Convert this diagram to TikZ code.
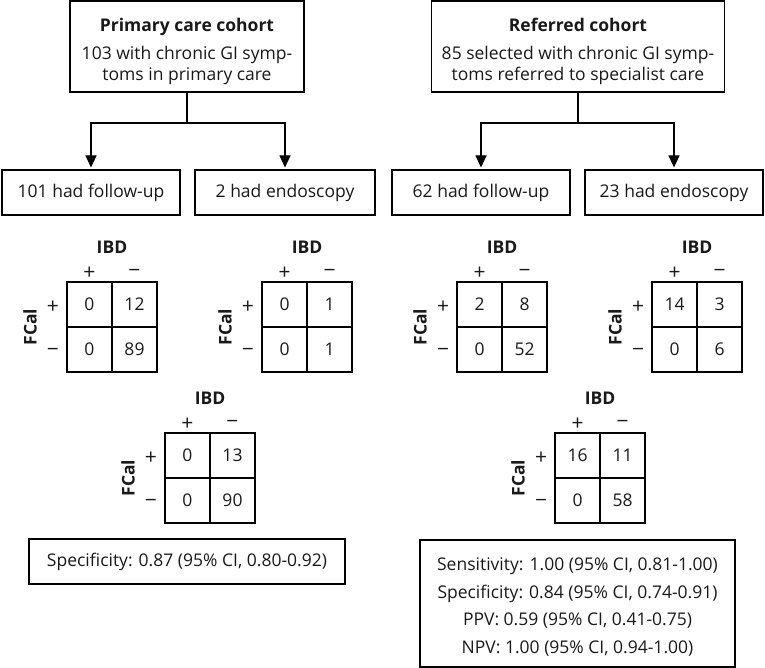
\documentclass[tikz,border=0pt]{standalone}
\usepackage{fontspec}
\setmainfont{Open Sans}
\usetikzlibrary{arrows.meta}
\tikzset{
  base/.style={font=\fontsize{17.5}{21}\selectfont, text=black!90},
  boxn/.style={base, draw, line width=1.1pt, inner sep=0pt, align=center},
  cell/.style={base, draw, line width=1.1pt, minimum size=45pt, inner sep=0pt},
  lab/.style={base, inner sep=0pt, align=center},
  sgn/.style={inner sep=0pt, font=\fontsize{21}{24}\selectfont, text=black!90},
  blab/.style={base, inner sep=0pt, font=\fontsize{17.5}{21}\selectfont\bfseries},
  conn/.style={line width=1.1pt},
  arr/.style={line width=1.1pt, -{Triangle[length=12pt,width=11pt]}},
}
\newcommand\ctwobytwo[7]{%
  \node[cell] (#1a) at (#2+22.5,#3+22.5) {#4};
  \node[cell] (#1b) at (#2+67.5,#3+22.5) {#5};
  \node[cell] (#1c) at (#2+22.5,#3+67.5) {#6};
  \node[cell] (#1d) at (#2+67.5,#3+67.5) {#7};
  \node[sgn] (#1cp) at (#2+22.5,#3-8.5) {+};
  \node[sgn] (#1cm) at (#2+67.5,#3-8.5) {−};
  \node[sgn] (#1rp) at (#2-14,#3+25) {+};
  \node[sgn] (#1rm) at (#2-14,#3+70) {−};
  \node[blab] (#1ibd) at (#2+45,#3-35) {IBD};
  \node[blab, rotate=90] (#1fcal) at (#2-37,#3+45) {FCal};
}
\begin{document}
\begin{tikzpicture}[x=1pt,y=-1pt]
\useasboundingbox (0,0) rectangle (765,668);
% top boxes
\node[boxn, minimum width=234pt, minimum height=91pt] (pc) at (187,46.5) {};
\node[lab] (pct) at (187,51)
  {\textbf{Primary care cohort}\\[7pt]103 with chronic GI symp-\\toms in primary care};
\node[boxn, minimum width=293pt, minimum height=91pt] (rc) at (578,46.5) {};
\node[lab] (rct) at (578,51)
  {\textbf{Referred cohort}\\[7pt]85 selected with chronic GI symp-\\toms referred to specialist care};
% second row boxes
\node[boxn, minimum width=178pt, minimum height=45pt] (f1) at (91,192.5) {101 had follow-up};
\node[boxn, minimum width=180pt, minimum height=45pt] (e1) at (285,192.5) {2 had endoscopy};
\node[boxn, minimum width=178pt, minimum height=45pt] (f2) at (481,192.5) {62 had follow-up};
\node[boxn, minimum width=178pt, minimum height=45pt] (e2) at (674,192.5) {23 had endoscopy};
% connectors
\coordinate (j1) at (187,123);
\coordinate (j2) at (578,123);
\draw[conn] (pc.south) -- (j1);
\draw[arr] (j1) -| ([yshift=2pt]f1.north);
\draw[arr] (j1) -| ([yshift=2pt]e1.north);
\draw[conn] (rc.south) -- (j2);
\draw[arr] (j2) -| ([yshift=2pt]f2.north);
\draw[arr] (j2) -| ([yshift=2pt]e2.north);
% tables
\ctwobytwo{ta}{67}{282}{0}{12}{0}{89}
\ctwobytwo{tb}{262}{282}{0}{1}{0}{1}
\ctwobytwo{tc}{457}{282}{2}{8}{0}{52}
\ctwobytwo{td}{652}{282}{14}{3}{0}{6}
\ctwobytwo{te}{165}{433}{0}{13}{0}{90}
\ctwobytwo{tf}{555}{433}{16}{11}{0}{58}
% result boxes
\node[boxn, minimum width=316pt, minimum height=45pt] (r1) at (187,561.5)
  {Specificity: 0.87 (95\% CI, 0.80-0.92)};
\node[boxn, minimum width=315pt, minimum height=127pt] (r2) at (577.5,603.5) {};
\node[lab, font=\fontsize{17.5}{27.5}\selectfont] (r2t) at (577.5,607)
  {Sensitivity: 1.00 (95\% CI, 0.81-1.00)\\Specificity: 0.84 (95\% CI, 0.74-0.91)\\PPV: 0.59 (95\% CI, 0.41-0.75)\\NPV: 1.00 (95\% CI, 0.94-1.00)};
\end{tikzpicture}
\end{document}
